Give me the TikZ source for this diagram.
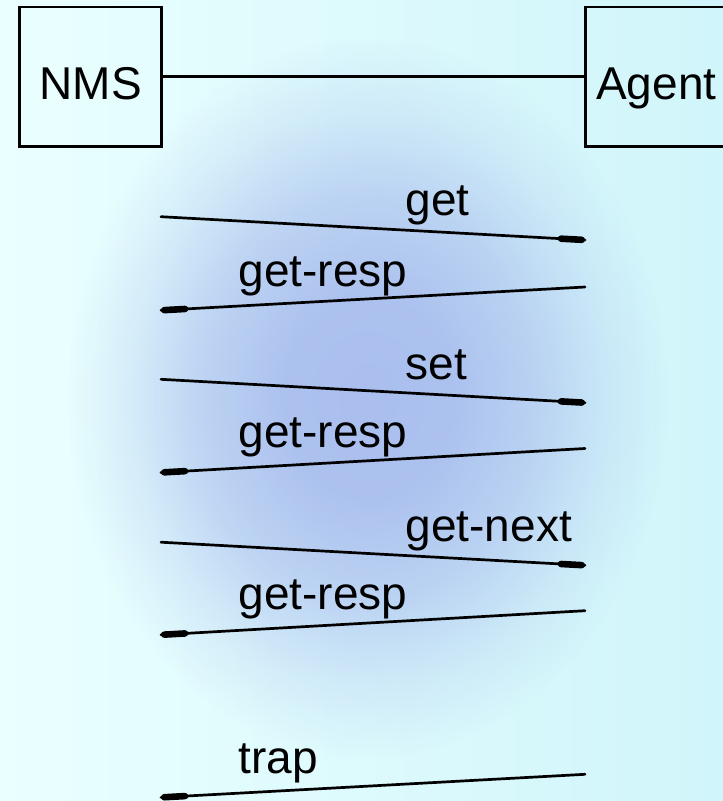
\documentclass[tikz,border=0pt]{standalone}
\usepackage{fontspec}
\setmainfont{Liberation Sans}
\usetikzlibrary{fadings,calc}
\definecolor{bgL}{HTML}{EAFFFF}
\definecolor{bgR}{HTML}{D0F5FA}
\definecolor{glowc}{HTML}{AABFEE}
\pgfdeclareradialshading{glowsh}{\pgfpoint{0bp}{0bp}}{color(0bp)=(white); color(7bp)=(white!95!black); color(14bp)=(white!65!black); color(20bp)=(white!25!black); color(25bp)=(black); color(50bp)=(black)}
\pgfdeclarefading{glowfade}{\pgfuseshading{glowsh}}
\tikzset{
  box/.style={draw, line width=2.8pt, inner sep=0pt, minimum width=142pt, minimum height=139.5pt,
    text height=46pt, text depth=0pt, font=\fontsize{46}{50}\selectfont},
  link/.style={line width=2.7pt},
  msg/.style={line width=2.7pt, line cap=round},
  tipend/.style={line width=6.6pt, line cap=round},
  lbl/.style={anchor=base west, inner sep=0pt, font=\fontsize{46}{50}\selectfont}
}
\begin{document}
\begin{tikzpicture}[x=1pt,y=-1pt]
\useasboundingbox (0,0) rectangle (723,801);
\clip (0,0) rectangle (723,801);
\shade[left color=bgL, right color=bgR] (0,0) rectangle (723,801);
\fill[glowc, path fading=glowfade] (368,398) ellipse [x radius=300pt, y radius=360pt];

% boxes
\node[box] (nms) at (90.7,76.8) {NMS};
\node[box] (agent) at (656.3,76.8) {Agent};
\draw[link] (nms.east) -- (agent.west);

% message end points
\coordinate (r1s) at (161,216.7); \coordinate (r1e) at (585,240);
\coordinate (p1s) at (585,287);   \coordinate (p1e) at (161,310.3);
\coordinate (r2s) at (161,379.3); \coordinate (r2e) at (585,402.7);
\coordinate (p2s) at (585,448.5); \coordinate (p2e) at (161,472.5);
\coordinate (r3s) at (161,542.2); \coordinate (r3e) at (585,565.3);
\coordinate (p3s) at (585,610.7); \coordinate (p3e) at (161,634.8);
\coordinate (t1s) at (585,774.3); \coordinate (t1e) at (161,797.4);

\foreach \a/\b in {r1s/r1e,p1s/p1e,r2s/r2e,p2s/p2e,r3s/r3e,p3s/p3e,t1s/t1e}{
  \draw[msg] (\a) -- (\b);
  \draw[tipend] ($(\b)!3.3pt!(\a)$) -- ($(\b)!24pt!(\a)$);
}

% labels
\node[lbl] (lget) at (405.5,215) {get};
\node[lbl] (lresp1) at (238.5,286) {get-resp};
\node[lbl] (lset) at (405.5,379) {set};
\node[lbl] (lresp2) at (238.5,447.5) {get-resp};
\node[lbl] (lnext) at (405.5,541.5) {get-next};
\node[lbl] (lresp3) at (238.5,609.5) {get-resp};
\node[lbl] (ltrap) at (238.5,773.3) {trap};
\end{tikzpicture}
\end{document}
